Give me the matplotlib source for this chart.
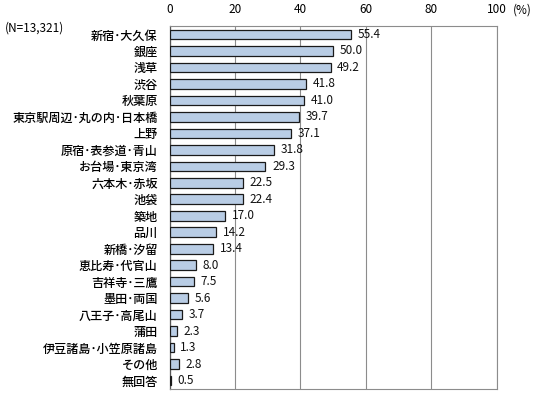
import matplotlib
matplotlib.use("Agg")
import matplotlib.pyplot as plt

plt.rcParams['font.family'] = ['Noto Sans CJK JP', 'DejaVu Sans']

categories = ["新宿･大久保", "銀座", "浅草", "渋谷", "秋葉原", "東京駅周辺･丸の内･日本橋",
              "上野", "原宿･表参道･青山", "お台場･東京湾", "六本木･赤坂", "池袋", "築地",
              "品川", "新橋･汐留", "恵比寿･代官山", "吉祥寺･三鷹", "墨田･両国", "八王子･高尾山",
              "蒲田", "伊豆諸島･小笠原諸島", "その他", "無回答"]
values = [55.4, 50.0, 49.2, 41.8, 41.0, 39.7, 37.1, 31.8, 29.3, 22.5, 22.4, 17.0,
          14.2, 13.4, 8.0, 7.5, 5.6, 3.7, 2.3, 1.3, 2.8, 0.5]
xticks = [0, 20, 40, 60, 80, 100]

fig = plt.figure(figsize=(5.4, 3.96), dpi=100)
ax = fig.add_axes([0.314, 0.018, 0.606, 0.916])

n = len(categories)
ypos = list(range(n))
ax.barh(ypos, values, height=0.58, color='#B9CDE5', edgecolor='#1a1a1a', linewidth=0.9, zorder=3)
for y, v in zip(ypos, values):
    ax.text(v + 2.0, y, f"{v:.1f}", va='center', ha='left', fontsize=8.5, color='#111111', zorder=4)

ax.set_xlim(0, 100)
ax.set_ylim(n - 0.5, -0.5)
ax.set_yticks(ypos)
ax.set_yticklabels(categories, fontsize=8.7, fontweight='medium')
ax.set_xticks(xticks)
ax.set_xticklabels([str(t) for t in xticks], fontsize=8.5)
ax.xaxis.tick_top()
ax.tick_params(axis='y', length=0, pad=8.5)
ax.tick_params(axis='x', length=0, pad=7.5)
ax.grid(axis='x', color='#8c8c8c', linewidth=0.8, zorder=0)
for s in ['top', 'right', 'bottom']:
    ax.spines[s].set_color('#8c8c8c')
    ax.spines[s].set_linewidth(0.8)
ax.spines['left'].set_color('#555555')
ax.spines['left'].set_linewidth(0.9)

fig.text(522 / 540, 1 - 10 / 396, "(%)", ha='center', va='center', fontsize=8.5)
fig.text(5 / 540, 1 - 28 / 396, "(N=13,321)", ha='left', va='center', fontsize=8.5)

fig.savefig("out.png", dpi=100)
